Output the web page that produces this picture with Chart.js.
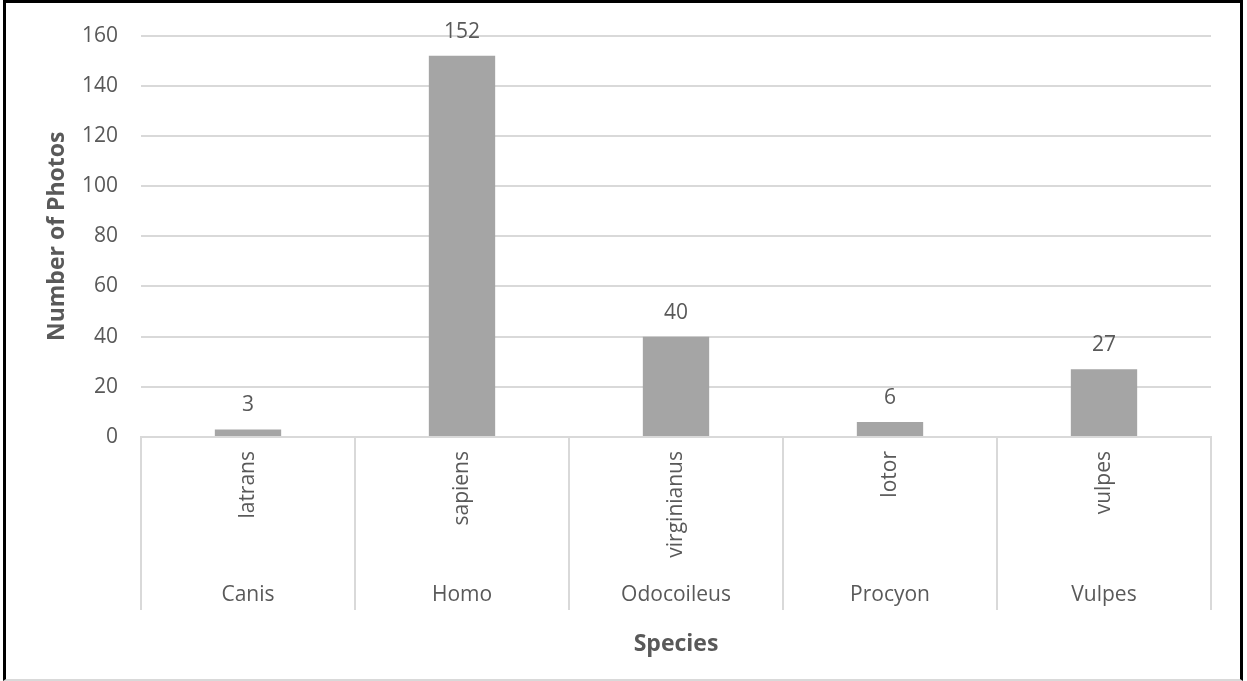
<!DOCTYPE html>
<html>
<head>
<meta charset="utf-8">
<script src="https://cdn.jsdelivr.net/npm/chart.js@4.4.1/dist/chart.umd.min.js"></script>
<style>
  html, body { margin: 0; padding: 0; background: #fff; }
  #wrap { position: relative; width: 1247px; height: 681px; }
  #frame {
    position: absolute; left: 3px; top: 0; width: 1240px; height: 681px;
    box-sizing: border-box; border: 3px solid #000; border-bottom: 2px solid #d9d9d9;
    pointer-events: none;
  }
</style>
</head>
<body>
<div id="wrap">
  <canvas id="speciesChart" width="1247" height="681"></canvas>
  <div id="frame"></div>
</div>
<script>
var species = ['latrans', 'sapiens', 'virginianus', 'lotor', 'vulpes'];
var genus = ['Canis', 'Homo', 'Odocoileus', 'Procyon', 'Vulpes'];
var photos = [3, 152, 40, 6, 27];

var textColor = '#595959';
var fontFamily = "'Open Sans', sans-serif";

// value labels above bars + separators under the category axis
var excelBits = {
  id: 'excelBits',
  afterDatasetsDraw: function(chart) {
    var ctx = chart.ctx;
    var meta = chart.getDatasetMeta(0);
    ctx.save();
    ctx.fillStyle = textColor;
    ctx.font = '21px ' + fontFamily;
    ctx.textAlign = 'center';
    ctx.textBaseline = 'alphabetic';
    meta.data.forEach(function(bar, i) {
      ctx.fillText(photos[i], bar.x, bar.y - 18);
    });
    ctx.restore();
  },
  afterDraw: function(chart) {
    var ctx = chart.ctx;
    var x = chart.scales.x;
    var area = chart.chartArea;
    var step = (x.right - x.left) / species.length;
    ctx.save();
    ctx.strokeStyle = '#d9d9d9';
    ctx.lineWidth = 2;
    for (var i = 0; i <= species.length; i++) {
      var px = Math.round(x.left + i * step);
      ctx.beginPath();
      ctx.moveTo(px, area.bottom);
      ctx.lineTo(px, 610);
      ctx.stroke();
    }
    ctx.restore();
  }
};

new Chart(document.getElementById('speciesChart'), {
  type: 'bar',
  data: {
    labels: species,
    datasets: [{
      data: photos,
      backgroundColor: '#a5a5a5',
      categoryPercentage: 1,
      barPercentage: 0.31
    }]
  },
  plugins: [excelBits],
  options: {
    responsive: false,
    animation: false,
    layout: { padding: { top: 34, right: 36, left: 0, bottom: 0 } },
    plugins: {
      legend: { display: false },
      tooltip: { enabled: false }
    },
    scales: {
      y: {
        min: 0,
        max: 160,
        ticks: { stepSize: 20, color: textColor, font: { size: 21, family: fontFamily }, padding: 23 },
        grid: { color: '#d9d9d9', lineWidth: 2, drawTicks: false },
        border: { display: false },
        title: {
          display: true,
          text: 'Number of Photos',
          color: textColor,
          font: { size: 23, weight: 'bold', family: fontFamily },
          padding: { top: 44 }
        },
        afterFit: function(scale) { scale.width = 141; }
      },
      x: {
        weight: 0,
        ticks: { color: textColor, font: { size: 21, family: fontFamily }, minRotation: 90, maxRotation: 90, padding: 6 },
        grid: { display: false },
        border: { display: true, color: '#d9d9d9', width: 2 },
        afterFit: function(scale) { scale.height = 133; }
      },
      x2: {
        type: 'category',
        position: 'bottom',
        weight: 1,
        labels: genus,
        offset: true,
        ticks: { color: textColor, font: { size: 21, family: fontFamily }, padding: 12 },
        grid: { display: false, drawTicks: false },
        border: { display: false },
        title: {
          display: true,
          text: 'Species',
          color: textColor,
          font: { size: 23, weight: 'bold', family: fontFamily },
          padding: { bottom: 23 }
        },
        afterFit: function(scale) { scale.height = 681 - 34 - 403 - 133; }
      }
    }
  }
});
</script>
</body>
</html>
